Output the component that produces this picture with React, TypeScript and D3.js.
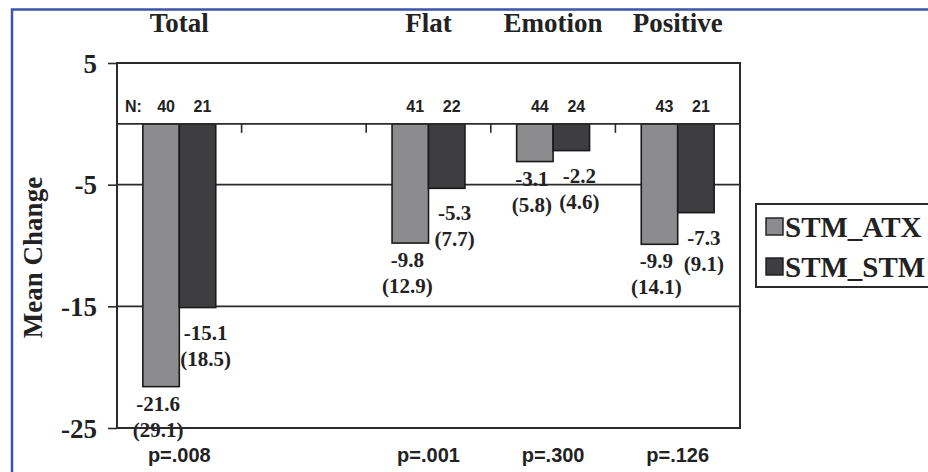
import * as d3 from "d3";
import React, { useEffect, useRef } from "react";

// chart values
const categories = ["Total", "", "Flat", "Emotion", "Positive"];
const series = ["STM_ATX", "STM_STM"];
const atxMeans = [-21.6, null, -9.8, -3.1, -9.9];
const stmMeans = [-15.1, null, -5.3, -2.2, -7.3];
const atxSD = ["(29.1)", "", "(12.9)", "(5.8)", "(14.1)"];
const stmSD = ["(18.5)", "", "(7.7)", "(4.6)", "(9.1)"];
const atxN = [40, null, 41, 44, 43];
const stmN = [21, null, 22, 24, 21];
const pValues = ["p=.008", "", "p=.001", "p=.300", "p=.126"];
const yTicks = [5, -5, -15, -25];
const seriesColors = ["#8c8c8e", "#3e3e40"];

const serif = "'Liberation Serif', 'Times New Roman', serif";
const sans = "'Liberation Sans', Arial, sans-serif";

const App: React.FC = () => {
  const ref = useRef<SVGSVGElement>(null);

  useEffect(() => {
    const width = 928;
    const height = 472;
    const margin = { top: 63, right: 188, bottom: 44, left: 117 };

    d3.select(ref.current).selectAll("*").remove();
    const svg = d3.select(ref.current)
      .attr("width", width)
      .attr("height", height);

    svg.append("rect")
      .attr("width", width)
      .attr("height", height)
      .attr("fill", "#ffffff");

    // blue frame around the figure
    svg.append("path")
      .attr("d", `M12,${height} L12,9.5 L${width},9.5`)
      .attr("fill", "none")
      .attr("stroke", "#3b55a8")
      .attr("stroke-width", 2.5);

    const x0 = d3.scaleBand()
      .domain(categories)
      .range([margin.left, width - margin.right])
      .paddingInner(0.415)
      .paddingOuter(0.2075);

    const x1 = d3.scaleBand()
      .domain(series)
      .range([0, x0.bandwidth()]);

    const y = d3.scaleLinear()
      .domain([-25, 5])
      .range([height - margin.bottom, margin.top]);

    const left = margin.left;
    const right = width - margin.right;

    // horizontal grid lines
    svg.append("g")
      .selectAll("line")
      .data([-5, -15])
      .join("line")
      .attr("x1", left)
      .attr("x2", right)
      .attr("y1", (d) => y(d))
      .attr("y2", (d) => y(d))
      .attr("stroke", "#2b2b2b")
      .attr("stroke-width", 1.6);

    // bars
    const rows = categories.map((c, i) => ({
      cat: c,
      vals: [
        { s: series[0], v: atxMeans[i], sd: atxSD[i], n: atxN[i] },
        { s: series[1], v: stmMeans[i], sd: stmSD[i], n: stmN[i] },
      ],
    }));

    const groups = svg.append("g")
      .selectAll("g")
      .data(rows)
      .join("g")
      .attr("transform", (d) => `translate(${x0(d.cat)},0)`);

    groups.selectAll("rect")
      .data((d) => d.vals.filter((v) => v.v !== null))
      .join("rect")
      .attr("x", (d) => x1(d.s)!)
      .attr("y", y(0))
      .attr("width", x1.bandwidth())
      .attr("height", (d) => y(d.v as number) - y(0))
      .attr("fill", (d) => seriesColors[series.indexOf(d.s)])
      .attr("stroke", "#1a1a1a")
      .attr("stroke-width", 1.6);

    // zero line (category axis) with ticks between categories
    svg.append("line")
      .attr("x1", left)
      .attr("x2", right)
      .attr("y1", y(0))
      .attr("y2", y(0))
      .attr("stroke", "#2b2b2b")
      .attr("stroke-width", 1.6);

    const step = x0.step();
    svg.append("g")
      .selectAll("line")
      .data(categories.slice(1))
      .join("line")
      .attr("x1", (d) => x0(d)! - step * x0.paddingInner() / 2)
      .attr("x2", (d) => x0(d)! - step * x0.paddingInner() / 2)
      .attr("y1", y(0))
      .attr("y2", y(0) + 9)
      .attr("stroke", "#2b2b2b")
      .attr("stroke-width", 1.6);

    // plot border
    svg.append("rect")
      .attr("x", left)
      .attr("y", y(5))
      .attr("width", right - left)
      .attr("height", y(-25) - y(5))
      .attr("fill", "none")
      .attr("stroke", "#2b2b2b")
      .attr("stroke-width", 2);

    // y axis
    const yAxis = svg.append("g")
      .attr("transform", `translate(${left},0)`)
      .call(d3.axisLeft(y).tickValues(yTicks).tickSize(9).tickFormat((d) => String(d)));
    yAxis.select(".domain").remove();
    yAxis.selectAll("line").attr("stroke", "#2b2b2b").attr("stroke-width", 1.6);
    yAxis.selectAll("text")
      .attr("x", -20)
      .attr("dy", "0.34em")
      .attr("fill", "#222")
      .style("font-family", serif)
      .style("font-weight", "bold")
      .style("font-size", "27px");

    // y axis title
    svg.append("text")
      .attr("transform", `translate(42,${(y(5) + y(-25)) / 2 + 12}) rotate(-90)`)
      .attr("text-anchor", "middle")
      .attr("fill", "#222")
      .style("font-family", serif)
      .style("font-weight", "bold")
      .style("font-size", "27px")
      .text("Mean Change");

    // category titles
    svg.append("g")
      .selectAll("text")
      .data(categories.filter((c) => c !== ""))
      .join("text")
      .attr("x", (d) => x0(d)! + x0.bandwidth() / 2)
      .attr("y", 32)
      .attr("text-anchor", "middle")
      .attr("fill", "#222")
      .style("font-family", serif)
      .style("font-weight", "bold")
      .style("font-size", "27px")
      .text((d) => d);

    // N labels
    svg.append("text")
      .attr("x", 125)
      .attr("y", 112)
      .attr("fill", "#222")
      .style("font-family", sans)
      .style("font-weight", "bold")
      .style("font-size", "16px")
      .text("N:");

    groups.each(function (row) {
      const g = d3.select(this);
      row.vals.forEach((v, j) => {
        if (v.v === null) return;
        const cx = x1(v.s)! + x1.bandwidth() / 2;
        g.append("text")
          .attr("x", cx + 5)
          .attr("y", 112)
          .attr("text-anchor", "middle")
          .attr("fill", "#222")
          .style("font-family", sans)
          .style("font-weight", "bold")
          .style("font-size", "16px")
          .text(String(v.n));

        // mean and (SD) below each bar
        const dx = j === 0 ? -3 : 8;
        const by = y(v.v as number) + (j === 0 ? 24 : 32);
        const lbl = g.append("text")
          .attr("text-anchor", "middle")
          .attr("fill", "#222")
          .style("font-family", serif)
          .style("font-weight", "bold")
          .style("font-size", "21px");
        lbl.append("tspan")
          .attr("x", cx + dx)
          .attr("y", by)
          .text(String(v.v));
        lbl.append("tspan")
          .attr("x", cx + dx)
          .attr("y", by + 26)
          .text(v.sd);
      });
    });

    // p-values
    svg.append("g")
      .selectAll("text")
      .data(categories.map((c, i) => ({ c, p: pValues[i] })).filter((d) => d.p !== ""))
      .join("text")
      .attr("x", (d) => x0(d.c)! + x0.bandwidth() / 2)
      .attr("y", 462)
      .attr("text-anchor", "middle")
      .attr("fill", "#222")
      .style("font-family", sans)
      .style("font-weight", "bold")
      .style("font-size", "20px")
      .text((d) => d.p);

    // legend
    const legend = svg.append("g").attr("transform", "translate(756,204)");
    legend.append("rect")
      .attr("width", 200)
      .attr("height", 83)
      .attr("fill", "#ffffff")
      .attr("stroke", "#2b2b2b")
      .attr("stroke-width", 2);

    series.forEach((s, i) => {
      legend.append("rect")
        .attr("x", 10)
        .attr("y", 14 + i * 40)
        .attr("width", 17)
        .attr("height", 17)
        .attr("fill", seriesColors[i])
        .attr("stroke", "#1a1a1a")
        .attr("stroke-width", 1.4);
      legend.append("text")
        .attr("x", 29)
        .attr("y", 33 + i * 40)
        .attr("fill", "#222")
        .style("font-family", serif)
        .style("font-weight", "bold")
        .style("font-size", "29px")
        .text(s);
    });
  }, []);

  return (
    <svg ref={ref} style={{ position: "absolute", left: 0, top: 0 }}></svg>
  );
};

export default App;
